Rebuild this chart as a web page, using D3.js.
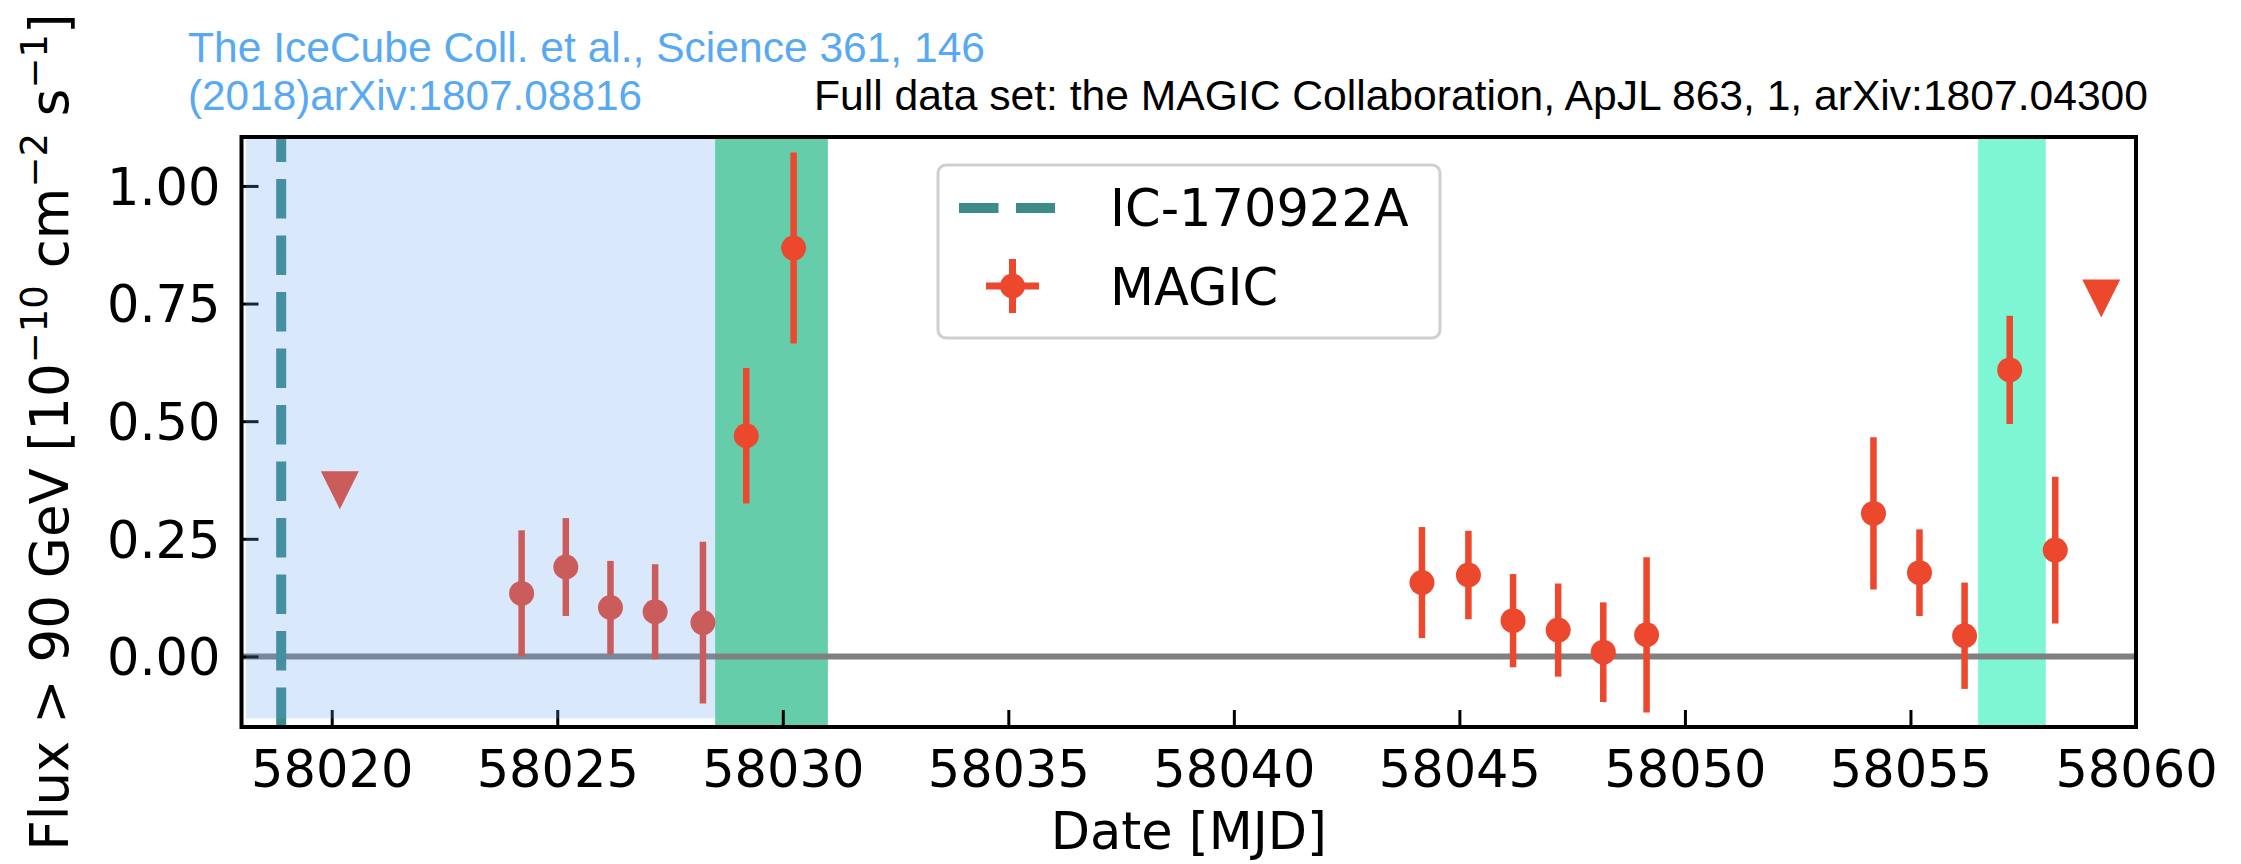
<!DOCTYPE html>
<html>
<head>
<meta charset="utf-8">
<script src="https://cdn.jsdelivr.net/npm/d3@7"></script>
<style>
  html, body { margin: 0; padding: 0; background: #ffffff; }
  svg { display: block; }
</style>
</head>
<body>
<div id="chart"></div>
<script>
// ---------------- data ----------------
const xTicks = [58020, 58025, 58030, 58035, 58040, 58045, 58050, 58055, 58060];
const yTicks = [0.00, 0.25, 0.50, 0.75, 1.00];

const magicMjd  = [58024.21, 58025.19, 58026.18, 58027.17, 58028.23, 58029.19, 58030.24,
                   58044.17, 58045.20, 58046.19, 58047.19, 58048.19, 58049.15,
                   58054.18, 58055.20, 58056.20, 58057.20, 58058.21];
const magicFlux = [0.134, 0.190, 0.104, 0.095, 0.072, 0.469, 0.868,
                   0.157, 0.173, 0.076, 0.056, 0.009, 0.046,
                   0.304, 0.178, 0.044, 0.609, 0.226];
const magicErr  = [0.134, 0.104, 0.099, 0.101, 0.172, 0.144, 0.203,
                   0.118, 0.094, 0.099, 0.099, 0.106, 0.165,
                   0.162, 0.092, 0.113, 0.115, 0.156];

const ulMjd  = [58020.18, 58059.23];
const ulFlux = [0.353, 0.761];

const neutrinoMjd = 58018.88;
const greenSpan = [58028.5, 58031.0];
const cyanSpan  = [58056.5, 58058.0];
const blueSpan  = [58018.1, 58028.5];
const blueSpanYmin = -0.132;

const xDomain = [58018.0, 58060.0];
const yDomain = [-0.150, 1.104];

const legendLabels = ["IC-170922A", "MAGIC"];
const titleBlue1 = "The IceCube Coll. et al., Science 361, 146";
const titleBlue2 = "(2018)arXiv:1807.08816";
const titleBlack = "Full data set: the MAGIC Collaboration, ApJL 863, 1, arXiv:1807.04300";

// ---------------- layout ----------------
const W = 2241, H = 864;
const L = 241.5, R = 2136, T = 137, B = 727;
const RED = "#ec482e";
const TEAL = "#3d8a88";
const AXFONT = "'DejaVu Sans', sans-serif";

const svg = d3.select("#chart").append("svg")
  .attr("width", W).attr("height", H)
  .style("background", "#ffffff");

const x = d3.scaleLinear().domain(xDomain).range([L, R]);
const y = d3.scaleLinear().domain(yDomain).range([B, T]);

svg.append("defs").append("clipPath").attr("id", "plotclip")
  .append("rect").attr("x", L).attr("y", T).attr("width", R - L).attr("height", B - T);

const plot = svg.append("g").attr("clip-path", "url(#plotclip)");

// spans
plot.append("rect")
  .attr("x", x(greenSpan[0])).attr("width", x(greenSpan[1]) - x(greenSpan[0]))
  .attr("y", T).attr("height", B - T).attr("fill", "#66cdaa");
plot.append("rect")
  .attr("x", x(cyanSpan[0])).attr("width", x(cyanSpan[1]) - x(cyanSpan[0]))
  .attr("y", T).attr("height", B - T).attr("fill", "#7ef6d4");

// zero line
plot.append("line")
  .attr("x1", L).attr("x2", R).attr("y1", y(0)).attr("y2", y(0))
  .attr("stroke", "#808080").attr("stroke-width", 6);

// neutrino dashed line (drawn from bottom upward)
plot.append("line")
  .attr("x1", x(neutrinoMjd)).attr("x2", x(neutrinoMjd))
  .attr("y1", B).attr("y2", T)
  .attr("stroke", TEAL).attr("stroke-width", 10)
  .attr("stroke-dasharray", "39.5,17");

// error bars
const pts = magicMjd.map((d, i) => ({ x: d, y: magicFlux[i], e: magicErr[i] }));
plot.selectAll("line.err").data(pts).enter().append("line")
  .attr("class", "err")
  .attr("x1", d => x(d.x)).attr("x2", d => x(d.x))
  .attr("y1", d => y(d.y - d.e)).attr("y2", d => y(d.y + d.e))
  .attr("stroke", RED).attr("stroke-width", 6.5);
plot.selectAll("circle.pt").data(pts).enter().append("circle")
  .attr("class", "pt")
  .attr("cx", d => x(d.x)).attr("cy", d => y(d.y)).attr("r", 12.5)
  .attr("fill", RED);

// upper limits (triangle down)
const ul = ulMjd.map((d, i) => ({ x: d, y: ulFlux[i] }));
const hs = 19;
plot.selectAll("path.ul").data(ul).enter().append("path")
  .attr("class", "ul")
  .attr("d", d => {
    const cx = x(d.x), cy = y(d.y);
    return `M${cx - hs},${cy - hs}L${cx + hs},${cy - hs}L${cx},${cy + hs}Z`;
  })
  .attr("fill", RED);

// axes (ticks inward)
const xAxis = d3.axisBottom(x).tickValues(xTicks).tickFormat(d3.format("d"))
  .tickSize(-17).tickSizeOuter(0);
const yAxis = d3.axisLeft(y).tickValues(yTicks).tickFormat(d3.format(".2f"))
  .tickSize(-17).tickSizeOuter(0);

const gx = svg.append("g").attr("transform", `translate(0,${B})`).call(xAxis);
const gy = svg.append("g").attr("transform", `translate(${L},0)`).call(yAxis);
[gx, gy].forEach(g => {
  g.select(".domain").remove();
  g.selectAll(".tick line").attr("stroke", "#000").attr("stroke-width", 3);
  g.selectAll(".tick text").attr("fill", "#000")
    .style("font-family", AXFONT).style("font-size", "51px");
});
gx.selectAll(".tick text").attr("y", 60).attr("dy", 0);
gy.selectAll(".tick text").attr("x", -21).attr("dy", "0.36em");

// blue overlay
svg.append("rect")
  .attr("x", x(blueSpan[0])).attr("width", x(blueSpan[1]) - x(blueSpan[0]))
  .attr("y", T).attr("height", y(blueSpanYmin) - T)
  .attr("fill", "rgb(97,159,238)").attr("fill-opacity", 0.24);

// frame
svg.append("rect")
  .attr("x", L).attr("y", T).attr("width", R - L).attr("height", B - T)
  .attr("fill", "none").attr("stroke", "#000").attr("stroke-width", 4);

// legend
const lg = svg.append("g");
lg.append("rect")
  .attr("x", 938).attr("y", 165).attr("width", 502).attr("height", 173)
  .attr("rx", 8).attr("fill", "#fff").attr("stroke", "#cfcfcf").attr("stroke-width", 3);
lg.append("line")
  .attr("x1", 959).attr("x2", 1055).attr("y1", 208).attr("y2", 208)
  .attr("stroke", TEAL).attr("stroke-width", 10).attr("stroke-dasharray", "39.5,17.5");
lg.append("line").attr("x1", 986).attr("x2", 1039).attr("y1", 286).attr("y2", 286)
  .attr("stroke", RED).attr("stroke-width", 7);
lg.append("line").attr("x1", 1012.5).attr("x2", 1012.5).attr("y1", 259).attr("y2", 313)
  .attr("stroke", RED).attr("stroke-width", 7);
lg.append("circle").attr("cx", 1012.5).attr("cy", 286).attr("r", 12.5).attr("fill", RED);
lg.selectAll("text").data(legendLabels).enter().append("text")
  .attr("x", 1110).attr("y", (d, i) => [226, 305][i])
  .style("font-family", AXFONT).style("font-size", "51px").attr("fill", "#000")
  .text(d => d);

// axis labels
svg.append("text")
  .attr("x", (L + R) / 2).attr("y", 849)
  .attr("text-anchor", "middle")
  .style("font-family", AXFONT).style("font-size", "51px").attr("fill", "#000")
  .text("Date [MJD]");

const yl = svg.append("text")
  .attr("transform", `translate(68,${(T + B) / 2}) rotate(-90)`)
  .attr("text-anchor", "middle")
  .style("font-family", AXFONT).style("font-size", "53px").attr("fill", "#000");
yl.append("tspan").text("Flux > 90 GeV [10");
yl.append("tspan").attr("dy", -21).style("font-size", "37px").text("\u221210");
yl.append("tspan").attr("dy", 21).text(" cm");
yl.append("tspan").attr("dy", -21).style("font-size", "37px").text("\u22122");
yl.append("tspan").attr("dy", 21).text(" s");
yl.append("tspan").attr("dy", -21).style("font-size", "37px").text("\u22121");
yl.append("tspan").attr("dy", 21).text("]");

// header texts
const HFONT = "'Liberation Sans', Arial, Helvetica, sans-serif";
svg.append("text").attr("x", 188).attr("y", 62)
  .style("font-family", HFONT).style("font-size", "42px").attr("fill", "#58a9f4")
  .attr("textLength", 797).attr("lengthAdjust", "spacingAndGlyphs")
  .text(titleBlue1);
svg.append("text").attr("x", 188).attr("y", 110)
  .style("font-family", HFONT).style("font-size", "42px").attr("fill", "#58a9f4")
  .attr("textLength", 454).attr("lengthAdjust", "spacingAndGlyphs")
  .text(titleBlue2);
svg.append("text").attr("x", 814).attr("y", 110)
  .style("font-family", HFONT).style("font-size", "42px").attr("fill", "#000")
  .attr("textLength", 1334).attr("lengthAdjust", "spacingAndGlyphs")
  .text(titleBlack);
</script>
</body>
</html>
